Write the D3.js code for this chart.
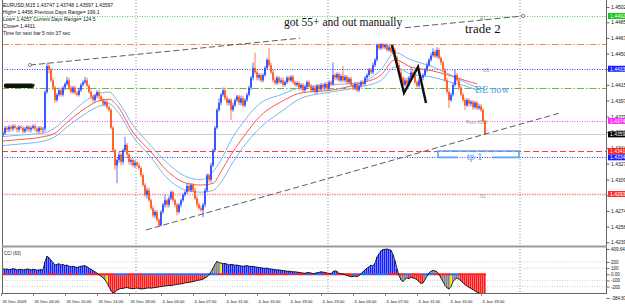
<!DOCTYPE html>
<html>
<head>
<meta charset="utf-8">
<script src="https://cdn.jsdelivr.net/npm/d3@7"></script>
<style>
body { margin: 0; background: #fff; }
svg { display: block; }
text { font-family: "Liberation Sans", Arial, sans-serif; }
.serif { font-family: "Liberation Serif", "Times New Roman", serif; }
</style>
</head>
<body>
<svg id="chart" width="625" height="305"></svg>
<script>
// EURUSD M15 bars, 31 Dec 2009 02:00 .. 5 Jan 2010 19:30 (bar index 0..242)
var opens = [1.4356,1.4359,1.4361,1.4367,1.4365,1.4368,1.4366,1.4369,1.4367,1.4365,
 1.4368,1.4367,1.4363,1.4366,1.4368,1.4365,1.4367,1.4369,1.4366,1.4363,
 1.4367,1.4365,1.4366,1.4407,1.4436,1.4432,1.4420,1.4412,1.4398,1.4404,
 1.4409,1.4404,1.4412,1.4416,1.4420,1.4412,1.4407,1.4412,1.4406,1.4404,
 1.4409,1.4415,1.4418,1.4420,1.4414,1.4407,1.4402,1.4398,1.4403,1.4407,
 1.4402,1.4398,1.4394,1.4396,1.4390,1.4387,1.4367,1.4342,1.4325,1.4331,
 1.4337,1.4329,1.4342,1.4348,1.4337,1.4329,1.4331,1.4325,1.4328,1.4325,
 1.4322,1.4314,1.4303,1.4292,1.4297,1.4286,1.4277,1.4269,1.4273,1.4264,
 1.4258,1.4273,1.4281,1.4286,1.4281,1.4288,1.4295,1.4286,1.4281,1.4273,
 1.4281,1.4286,1.4292,1.4295,1.4302,1.4297,1.4303,1.4297,1.4288,1.4281,
 1.4277,1.4275,1.4281,1.4297,1.4314,1.4309,1.4325,1.4342,1.4367,1.4387,
 1.4395,1.4404,1.4409,1.4400,1.4395,1.4398,1.4387,1.4392,1.4398,1.4402,
 1.4395,1.4400,1.4392,1.4398,1.4404,1.4412,1.4423,1.4434,1.4429,1.4423,
 1.4426,1.4420,1.4426,1.4434,1.4443,1.4437,1.4429,1.4420,1.4417,1.4423,
 1.4418,1.4420,1.4415,1.4418,1.4423,1.4420,1.4424,1.4418,1.4415,1.4417,
 1.4412,1.4415,1.4409,1.4413,1.4418,1.4414,1.4409,1.4412,1.4407,1.4414,
 1.4410,1.4415,1.4412,1.4416,1.4411,1.4418,1.4416,1.4426,1.4423,1.4427,
 1.4420,1.4425,1.4420,1.4424,1.4418,1.4422,1.4415,1.4412,1.4416,1.4409,
 1.4414,1.4418,1.4416,1.4423,1.4426,1.4432,1.4429,1.4437,1.4443,1.4460,
 1.4456,1.4461,1.4457,1.4460,1.4454,1.4457,1.4452,1.4454,1.4446,1.4437,
 1.4429,1.4423,1.4415,1.4420,1.4416,1.4423,1.4429,1.4425,1.4418,1.4414,
 1.4420,1.4423,1.4426,1.4432,1.4437,1.4443,1.4448,1.4452,1.4447,1.4454,
 1.4445,1.4440,1.4432,1.4420,1.4407,1.4398,1.4404,1.4415,1.4426,1.4420,
 1.4412,1.4404,1.4398,1.4392,1.4398,1.4394,1.4396,1.4390,1.4395,1.4389,
 1.4391,1.4387,1.43747];
var highs = [1.4360,1.4363,1.4369,1.4369,1.4370,1.4370,1.4371,1.4371,1.4369,1.4370,
 1.4370,1.4369,1.4368,1.4370,1.4370,1.4369,1.4371,1.4371,1.4368,1.4369,
 1.4369,1.4368,1.4409,1.4440,1.4438,1.4434,1.4423,1.4414,1.4406,1.4412,
 1.4412,1.4414,1.4418,1.4424,1.4423,1.4414,1.4414,1.4414,1.4408,1.4412,
 1.4417,1.4420,1.4424,1.4423,1.4416,1.4409,1.4404,1.4405,1.4409,1.4409,
 1.4404,1.4400,1.4398,1.4398,1.4392,1.4389,1.4369,1.4344,1.4333,1.4340,
 1.4339,1.4344,1.4357,1.4350,1.4339,1.4333,1.4333,1.4331,1.4330,1.4328,
 1.4324,1.4316,1.4305,1.4300,1.4300,1.4288,1.4280,1.4275,1.4275,1.4266,
 1.4275,1.4283,1.4292,1.4288,1.4291,1.4297,1.4297,1.4288,1.4283,1.4283,
 1.4288,1.4294,1.4297,1.4305,1.4304,1.4305,1.4305,1.4300,1.4291,1.4283,
 1.4280,1.4283,1.4300,1.4316,1.4316,1.4328,1.4344,1.4369,1.4389,1.4400,
 1.4406,1.4412,1.4412,1.4403,1.4400,1.4400,1.4395,1.4400,1.4404,1.4404,
 1.4403,1.4403,1.4400,1.4406,1.4414,1.4425,1.4440,1.4451,1.4432,1.4428,
 1.4428,1.4428,1.4436,1.4445,1.4456,1.4440,1.4432,1.4423,1.4425,1.4425,
 1.4423,1.4423,1.4420,1.4425,1.4425,1.4426,1.4426,1.4420,1.4419,1.4419,
 1.4417,1.4417,1.4415,1.4420,1.4420,1.4416,1.4414,1.4414,1.4416,1.4416,
 1.4417,1.4417,1.4418,1.4418,1.4420,1.4420,1.4440,1.4428,1.4429,1.4429,
 1.4427,1.4436,1.4426,1.4426,1.4424,1.4424,1.4417,1.4418,1.4418,1.4416,
 1.4420,1.4420,1.4425,1.4428,1.4434,1.4434,1.4440,1.4445,1.4461,1.4461,
 1.4461,1.4461,1.4461,1.4461,1.4460,1.4460,1.4456,1.4456,1.4448,1.4440,
 1.4432,1.4425,1.4423,1.4423,1.4425,1.4435,1.4432,1.4427,1.4420,1.4423,
 1.4425,1.4428,1.4434,1.4440,1.4445,1.4451,1.4456,1.4454,1.4457,1.4456,
 1.4447,1.4442,1.4434,1.4423,1.4409,1.4406,1.4417,1.4432,1.4428,1.4423,
 1.4414,1.4406,1.4400,1.4400,1.4400,1.4398,1.4398,1.4397,1.4397,1.4394,
 1.4394,1.4389,1.43748];
var lows = [1.4353,1.4357,1.4359,1.4362,1.4362,1.4363,1.4363,1.4365,1.4362,1.4362,
 1.4365,1.4361,1.4361,1.4363,1.4362,1.4362,1.4365,1.4363,1.4361,1.4361,
 1.4362,1.4361,1.4363,1.4405,1.4428,1.4418,1.4409,1.4395,1.4396,1.4402,
 1.4402,1.4402,1.4409,1.4414,1.4409,1.4405,1.4405,1.4404,1.4402,1.4402,
 1.4407,1.4413,1.4416,1.4412,1.4405,1.4399,1.4395,1.4396,1.4400,1.4399,
 1.4396,1.4391,1.4391,1.4388,1.4385,1.4365,1.4340,1.4320,1.4305,1.4328,
 1.4325,1.4326,1.4340,1.4334,1.4326,1.4325,1.4323,1.4322,1.4323,1.4320,
 1.4312,1.4301,1.4290,1.4288,1.4284,1.4275,1.4267,1.4266,1.4262,1.4257,
 1.4257,1.4271,1.4278,1.4278,1.4278,1.4286,1.4284,1.4278,1.4269,1.4271,
 1.4278,1.4284,1.4290,1.4293,1.4295,1.4295,1.4295,1.4286,1.4278,1.4275,
 1.4273,1.4267,1.4278,1.4295,1.4306,1.4306,1.4323,1.4340,1.4365,1.4385,
 1.4392,1.4402,1.4398,1.4392,1.4392,1.4376,1.4385,1.4390,1.4396,1.4392,
 1.4392,1.4390,1.4390,1.4396,1.4402,1.4409,1.4420,1.4427,1.4420,1.4420,
 1.4418,1.4418,1.4424,1.4432,1.4435,1.4427,1.4418,1.4415,1.4415,1.4416,
 1.4416,1.4413,1.4413,1.4416,1.4418,1.4418,1.4416,1.4413,1.4413,1.4409,
 1.4409,1.4407,1.4407,1.4410,1.4412,1.4407,1.4407,1.4405,1.4405,1.4408,
 1.4408,1.4409,1.4409,1.4408,1.4408,1.4414,1.4414,1.4420,1.4420,1.4418,
 1.4418,1.4418,1.4418,1.4416,1.4416,1.4413,1.4409,1.4409,1.4407,1.4407,
 1.4412,1.4414,1.4414,1.4420,1.4424,1.4427,1.4427,1.4435,1.4441,1.4454,
 1.4454,1.4455,1.4455,1.4452,1.4452,1.4450,1.4450,1.4444,1.4435,1.4427,
 1.4420,1.4412,1.4413,1.4414,1.4414,1.4420,1.4423,1.4416,1.4412,1.4412,
 1.4418,1.4420,1.4424,1.4429,1.4435,1.4441,1.4446,1.4445,1.4445,1.4443,
 1.4437,1.4429,1.4418,1.4405,1.4389,1.4396,1.4402,1.4413,1.4418,1.4409,
 1.4402,1.4396,1.4387,1.4390,1.4391,1.4391,1.4387,1.4388,1.4387,1.4387,
 1.4385,1.4373,1.43597];
var closes = [1.4359,1.4361,1.4367,1.4365,1.4368,1.4366,1.4369,1.4367,1.4365,1.4368,
 1.4367,1.4363,1.4366,1.4368,1.4365,1.4367,1.4369,1.4366,1.4363,1.4367,
 1.4365,1.4366,1.4407,1.4436,1.4432,1.4420,1.4412,1.4398,1.4404,1.4409,
 1.4404,1.4412,1.4416,1.4420,1.4412,1.4407,1.4412,1.4406,1.4404,1.4409,
 1.4415,1.4418,1.4420,1.4414,1.4407,1.4402,1.4398,1.4403,1.4407,1.4402,
 1.4398,1.4394,1.4396,1.4390,1.4387,1.4367,1.4342,1.4325,1.4331,1.4337,
 1.4329,1.4342,1.4348,1.4337,1.4329,1.4331,1.4325,1.4328,1.4325,1.4322,
 1.4314,1.4303,1.4292,1.4297,1.4286,1.4277,1.4269,1.4273,1.4264,1.4258,
 1.4273,1.4281,1.4286,1.4281,1.4288,1.4295,1.4286,1.4281,1.4273,1.4281,
 1.4286,1.4292,1.4295,1.4302,1.4297,1.4303,1.4297,1.4288,1.4281,1.4277,
 1.4275,1.4281,1.4297,1.4314,1.4309,1.4325,1.4342,1.4367,1.4387,1.4395,
 1.4404,1.4409,1.4400,1.4395,1.4398,1.4387,1.4392,1.4398,1.4402,1.4395,
 1.4400,1.4392,1.4398,1.4404,1.4412,1.4423,1.4434,1.4429,1.4423,1.4426,
 1.4420,1.4426,1.4434,1.4443,1.4437,1.4429,1.4420,1.4417,1.4423,1.4418,
 1.4420,1.4415,1.4418,1.4423,1.4420,1.4424,1.4418,1.4415,1.4417,1.4412,
 1.4415,1.4409,1.4413,1.4418,1.4414,1.4409,1.4412,1.4407,1.4414,1.4410,
 1.4415,1.4412,1.4416,1.4411,1.4418,1.4416,1.4426,1.4423,1.4427,1.4420,
 1.4425,1.4420,1.4424,1.4418,1.4422,1.4415,1.4412,1.4416,1.4409,1.4414,
 1.4418,1.4416,1.4423,1.4426,1.4432,1.4429,1.4437,1.4443,1.4460,1.4456,
 1.4461,1.4457,1.4460,1.4454,1.4457,1.4452,1.4454,1.4446,1.4437,1.4429,
 1.4423,1.4415,1.4420,1.4416,1.4423,1.4429,1.4425,1.4418,1.4414,1.4420,
 1.4423,1.4426,1.4432,1.4437,1.4443,1.4448,1.4452,1.4447,1.4454,1.4445,
 1.4440,1.4432,1.4420,1.4407,1.4398,1.4404,1.4415,1.4426,1.4420,1.4412,
 1.4404,1.4398,1.4392,1.4398,1.4394,1.4396,1.4390,1.4395,1.4389,1.4391,
 1.4387,1.43747,1.43597];

// CCI(63), one value per bar
var cci = [95,90,80,85,75,80,90,85,70,75,
 80,70,75,85,80,70,80,75,65,70,
 75,70,200,290,270,230,190,150,160,170,
 150,160,140,150,130,120,130,120,110,120,
 130,135,140,120,100,80,60,40,20,-10,
 -30,-60,-90,-140,-200,-270,-300,-290,-260,-240,
 -230,-230,-220,-215,-225,-230,-235,-230,-225,-230,
 -240,-235,-230,-225,-220,-225,-220,-215,-210,-205,
 -200,-195,-190,-185,-180,-185,-175,-170,-165,-160,
 -155,-150,-140,-135,-130,-125,-120,-110,-100,-95,
 -90,-80,-60,-40,-10,40,100,160,210,190,
 180,170,175,165,150,160,155,145,150,140,
 135,130,135,140,130,125,130,120,115,110,
 105,100,95,100,90,85,80,75,70,70,
 65,60,55,50,50,45,40,40,35,30,
 25,20,15,25,30,20,10,15,25,30,
 40,35,30,20,15,10,40,55,45,15,
 10,5,-5,-20,-30,-40,-35,-30,-40,-20,
 10,40,70,100,120,150,130,180,280,330,
 380,400,405,409.642,400,390,320,220,90,-20,
 -90,-120,-80,-60,-70,-50,-60,-70,-90,-120,
 -150,-140,-90,-30,20,50,60,55,40,0,
 -60,-120,-180,-220,-240,-200,-120,-80,-60,-80,
 -110,-140,-170,-190,-210,-230,-250,-270,-290,-300,
 -320,-350,-384.836];
var cciGrayRanges = [[48, 52], [103, 109], [199, 203], [212, 224], [226, 229]];
var cciYellowBars = [53, 110, 225];
var cciTicks = [409.642, 200, 100, 0, -100, -200, -384.836];
var cciTickLabels = ["409.642", "200", "100", "0.00", "-100", "-200", "-384.836"];
var cciLevels = [200, 100, -100, -200];

// moving average band, sampled
var maIdx = [0, 10, 21, 27, 33, 41, 50, 54, 58, 66, 75, 83, 93, 100, 106, 110, 115, 120, 130, 140, 150, 165, 180, 190, 197, 205, 215, 225, 232, 238];
var maUpper = [1.4357,1.4359,1.4361,1.4367,1.4379,1.4395,1.4406,1.4407,1.4398,1.4370,1.4347,1.4328,1.4312,1.4309,1.4318,1.4331,1.4353,1.4370,1.4395,1.4404,1.4412,1.4415,1.4418,1.4432,1.4451,1.4443,1.4436,1.4426,1.4418,1.4412];
var maMid = [1.4352,1.4354,1.4357,1.4361,1.4373,1.4387,1.4398,1.4399,1.4392,1.4362,1.4340,1.4319,1.4305,1.4303,1.4305,1.4318,1.4337,1.4353,1.4381,1.4396,1.4406,1.4409,1.4417,1.4426,1.4443,1.4435,1.4431,1.4425,1.4420,1.4416];
var maLower = [1.4347,1.4349,1.4352,1.4357,1.4368,1.4381,1.4392,1.4394,1.4386,1.4357,1.4334,1.4311,1.4297,1.4295,1.4297,1.4306,1.4325,1.4342,1.4368,1.4385,1.4400,1.4407,1.4413,1.4420,1.4435,1.4427,1.4424,1.4418,1.4414,1.4409];

// horizontal levels: R1, day high, M3, prev close, pivot, bid, red, blue, S1
var levelPrices = [1.4492, 1.4461, 1.4433, 1.4411, 1.43747, 1.43597, 1.4341, 1.4334, 1.4293];
var levelNames = ["R1", "", "M3", "", "Pivot", "", "", "", "S1"];

var priceTicks = [1.45020, 1.44850, 1.44675, 1.44500, 1.44325, 1.44150, 1.43975, 1.43795, 1.43620, 1.43445, 1.43270, 1.43090, 1.42915, 1.42740, 1.42565, 1.42390];
var timeTickIdx = [0, 16, 32, 48, 64, 80, 96, 112, 128, 144, 160, 176, 192, 208, 224, 240];
var timeTickLabels = ["31 Dec 2009", "31 Dec 06:00", "31 Dec 10:00", "31 Dec 14:00", "31 Dec 18:00", "4 Jan 03:00", "4 Jan 07:00", "4 Jan 11:00", "4 Jan 15:00", "4 Jan 19:00", "4 Jan 23:00", "5 Jan 03:00", "5 Jan 07:00", "5 Jan 11:00", "5 Jan 15:00", "5 Jan 19:00"];
var daySeparators = [68, 164, 260];

// drawn objects (bar index, price)
var trendUpperA = [[14.5, 1.44372], [149.5, 1.44672]];
var trendUpperB = [[202, 1.44789], [261, 1.4492]];
var trendLower = [[72.5, 1.42528], [279.5, 1.43836]];
var zigzag = [[195.5, 1.44596], [201.5, 1.44059], [208.5, 1.4435], [212.5, 1.43947]];
var arrowMark = [[2.5, 1.4414], [15.5, 1.4414]];
var tpBox = [[218.5, 1.4341], [259, 1.4334]];
var notes = ["got 55+ and out manually", "trade 2", "BE now", "tp 1"];
var noteAnchors = [[141.5, 1.44808], [232, 1.4473], [237, 1.44059], [233, 1.4331]];

var infoLines = ["EURUSD,M15  1.43747 1.43748 1.43597 1.43597",
  "High= 1.4456    Previous Days Range= 199.1",
  "Low= 1.4257    Current Days Range= 124.5",
  "Close= 1.4411",
  "Time for next bar 5 min 37 sec"];

var svg = d3.select("#chart");
var left = 2, right = 606, mainBottom = 246, cciTop = 248, cciBottom = 293;

var x = d3.scaleLinear().domain([0, 302]).range([1, 605]);
var y = d3.scaleLinear().domain([1.4293, 1.4492]).range([194, 16]);
var yc = d3.scaleLinear().domain([-384.836, 409.642]).range([298, 249]);

var defs = svg.append("defs");
defs.append("clipPath").attr("id", "clipMain").append("rect")
    .attr("x", left).attr("y", 0).attr("width", right - left).attr("height", mainBottom);
defs.append("clipPath").attr("id", "clipCci").append("rect")
    .attr("x", left).attr("y", cciTop).attr("width", right - left).attr("height", cciBottom - cciTop);

var gMain = svg.append("g").attr("clip-path", "url(#clipMain)");
var gCci = svg.append("g").attr("clip-path", "url(#clipCci)");

// day separators
daySeparators.forEach(function (d) {
    svg.append("line")
        .attr("x1", x(d) - 1).attr("x2", x(d) - 1)
        .attr("y1", 0).attr("y2", cciBottom)
        .attr("stroke", "#777").attr("stroke-width", 0.8)
        .attr("stroke-dasharray", "1,2");
});

// horizontal levels
var levelStyle = [
    {color: "#5ccc5c", dash: "1,1.5", w: 1},
    {color: "#ff7f50", dash: "7,2,1.5,2", w: 1},
    {color: "#3a3aff", dash: "1,1.5", w: 1},
    {color: "#6cb83a", dash: "7,2,1.5,2", w: 1},
    {color: "#ff44ff", dash: "1,1.5", w: 1},
    {color: "#cfcfcf", dash: null, w: 1},
    {color: "#ff3b3b", dash: "6,3", w: 1},
    {color: "#3a3aff", dash: "1,1.5", w: 1},
    {color: "#ff9090", dash: "1.5,1", w: 1.6}
];
levelPrices.forEach(function (p, i) {
    gMain.append("line")
        .attr("x1", left).attr("x2", right)
        .attr("y1", Math.round(y(p)) + 0.5).attr("y2", Math.round(y(p)) + 0.5)
        .attr("stroke", levelStyle[i].color)
        .attr("stroke-width", levelStyle[i].w)
        .attr("stroke-dasharray", levelStyle[i].dash);
});
var nameIdx = [239.5, 0, 241, 0, 232.5, 0, 0, 0, 239.5];
levelNames.forEach(function (n, i) {
    if (!n) return;
    gMain.append("text")
        .attr("x", x(nameIdx[i])).attr("y", y(levelPrices[i]) + 3.5)
        .attr("font-size", 4.5).attr("fill", "#9a9a9a")
        .text(n === "Pivot" ? "Pivot    4375" : n);
});

// moving averages
function maLine(vals) {
    return d3.line()
        .x(function (d, i) { return x(maIdx[i]); })
        .y(function (d) { return y(d); })
        .curve(d3.curveMonotoneX)(vals);
}
gMain.append("path").attr("d", maLine(maUpper)).attr("fill", "none").attr("stroke", "#7ab8f0").attr("stroke-width", 1);
gMain.append("path").attr("d", maLine(maLower)).attr("fill", "none").attr("stroke", "#7ab8f0").attr("stroke-width", 1);
gMain.append("path").attr("d", maLine(maMid)).attr("fill", "none").attr("stroke", "#ff5a4a").attr("stroke-width", 1);

// candles
var bullColor = "#2f4cff", bearColor = "#ff5a1f";
var bars = d3.range(closes.length);
function barColor(i) { return closes[i] >= opens[i] ? bullColor : bearColor; }
gMain.selectAll("line.wick").data(bars).enter().append("line")
    .attr("class", "wick")
    .attr("x1", function (d) { return x(d); })
    .attr("x2", function (d) { return x(d); })
    .attr("y1", function (d) { return y(highs[d]); })
    .attr("y2", function (d) { return y(lows[d]); })
    .attr("stroke", barColor)
    .attr("stroke-width", 0.8);
gMain.selectAll("rect.body").data(bars).enter().append("rect")
    .attr("class", "body")
    .attr("x", function (d) { return x(d) - 0.9; })
    .attr("width", 1.8)
    .attr("y", function (d) { return y(Math.max(opens[d], closes[d])); })
    .attr("height", function (d) { return Math.max(0.8, Math.abs(y(opens[d]) - y(closes[d]))); })
    .attr("fill", barColor);

// trend lines
var ptLine = d3.line().x(function (d) { return x(d[0]); }).y(function (d) { return y(d[1]); });
[trendUpperA, trendUpperB, trendLower].forEach(function (t) {
    gMain.append("path").attr("d", ptLine(t))
        .attr("fill", "none").attr("stroke", "#4a4a4a").attr("stroke-width", 0.9)
        .attr("stroke-dasharray", "6,3");
});
[trendUpperA[0], trendUpperB[1]].forEach(function (p) {
    gMain.append("circle").attr("cx", x(p[0])).attr("cy", y(p[1])).attr("r", 1.6)
        .attr("fill", "#fff").attr("stroke", "#555").attr("stroke-width", 0.7);
});

// zigzag
gMain.append("path").attr("d", ptLine(zigzag))
    .attr("fill", "none").attr("stroke", "#111").attr("stroke-width", 2.4)
    .attr("stroke-linejoin", "miter");

// arrow mark at left
gMain.append("path").attr("d", ptLine(arrowMark))
    .attr("stroke", "#111").attr("stroke-width", 4.5).attr("stroke-linecap", "round");
gMain.append("line")
    .attr("x1", x(arrowMark[1][0])).attr("x2", x(arrowMark[1][0]) + 3)
    .attr("y1", y(arrowMark[1][1]) - 1).attr("y2", y(arrowMark[1][1]) - 1)
    .attr("stroke", "#444").attr("stroke-width", 1);

// tp box
var bx0 = x(tpBox[0][0]), bx1 = x(tpBox[1][0]), by0 = y(tpBox[0][1]), by1 = y(tpBox[1][1]);
gMain.append("path")
    .attr("d", "M" + (bx0 + 20) + "," + by1 + "H" + bx0 + "V" + by0 + "H" + bx1 + "V" + by1 + "H" + (bx0 + 55))
    .attr("fill", "none").attr("stroke", "#5aa4f5").attr("stroke-width", 1.6);

// notes
var noteSize = [11.5, 13, 10.5, 10];
var noteColor = ["#111", "#111", "#4a9ef5", "#4a9ef5"];
notes.forEach(function (t, i) {
    gMain.append("text").attr("class", "serif")
        .attr("x", x(noteAnchors[i][0])).attr("y", y(noteAnchors[i][1]))
        .attr("font-size", noteSize[i]).attr("fill", noteColor[i])
        .text(t);
});

// info text
infoLines.forEach(function (t, i) {
    svg.append("text").attr("x", 3).attr("y", 7 + i * 7.1)
        .attr("font-size", 5).attr("fill", "#111").text(t);
});

// CCI histogram
var zeroY = yc(0);
function cciColor(i) {
    if (cciYellowBars.indexOf(i) >= 0) return ["#ffff00", "#e6e600"];
    for (var k = 0; k < cciGrayRanges.length; k++) {
        if (i >= cciGrayRanges[k][0] && i <= cciGrayRanges[k][1]) return ["#a8a8a8", "#888"];
    }
    return cci[i] >= 0 ? ["#6f86ff", "#1a1aff"] : ["#ff7070", "#ff1a1a"];
}
cciLevels.forEach(function (v) {
    gCci.append("line").attr("x1", left).attr("x2", right)
        .attr("y1", yc(v)).attr("y2", yc(v))
        .attr("stroke", "#bbb").attr("stroke-width", 0.7).attr("stroke-dasharray", "1,1.5");
});
gCci.selectAll("rect.hist").data(bars).enter().append("rect")
    .attr("class", "hist")
    .attr("x", function (d) { return x(d) - 1; })
    .attr("width", 2)
    .attr("y", function (d) { return Math.min(yc(cci[d]), zeroY); })
    .attr("height", function (d) { return Math.abs(yc(cci[d]) - zeroY); })
    .attr("fill", function (d) { return cciColor(d)[0]; });
gCci.selectAll("line.hist").data(bars).enter().append("line")
    .attr("class", "hist")
    .attr("x1", function (d) { return x(d) - 0.5; })
    .attr("x2", function (d) { return x(d) - 0.5; })
    .attr("y1", zeroY)
    .attr("y2", function (d) { return yc(cci[d]); })
    .attr("stroke", function (d) { return cciColor(d)[1]; })
    .attr("stroke-width", 1);
// zero strip
gCci.selectAll("rect.zero").data(bars).enter().append("rect")
    .attr("class", "zero")
    .attr("x", function (d) { return x(d) - 1; })
    .attr("width", 2)
    .attr("y", zeroY - 1).attr("height", 2)
    .attr("fill", function (d) { return d > 0 && cci[d] < cci[d - 1] ? "#ff2020" : "#2a6cff"; });
gCci.append("path")
    .attr("d", d3.line().x(function (d) { return x(d); }).y(function (d) { return yc(cci[d]); })(bars))
    .attr("fill", "none").attr("stroke", "#111").attr("stroke-width", 0.9);

svg.append("text").attr("x", 4).attr("y", 254.5).attr("font-size", 4.5).attr("fill", "#222").text("CCI (63)");

// frame
svg.append("line").attr("x1", left + 0.5).attr("x2", left + 0.5).attr("y1", 0).attr("y2", cciBottom).attr("stroke", "#666").attr("stroke-width", 1);
svg.append("line").attr("x1", right + 0.5).attr("x2", right + 0.5).attr("y1", 0).attr("y2", cciBottom).attr("stroke", "#666").attr("stroke-width", 1);
svg.append("rect").attr("x", left).attr("y", mainBottom - 0.5).attr("width", right - left + 1).attr("height", 2).attr("fill", "#9a9a9a");
svg.append("line").attr("x1", left).attr("x2", right + 1).attr("y1", cciBottom + 0.5).attr("y2", cciBottom + 0.5).attr("stroke", "#666").attr("stroke-width", 1);

// price axis
var yAxis = d3.axisRight(y).tickValues(priceTicks).tickFormat(d3.format(".5f")).tickSize(3).tickPadding(1.5);
var gy = svg.append("g").attr("transform", "translate(" + (right + 0.5) + ",0)").call(yAxis);
gy.select(".domain").remove();
gy.selectAll("text").attr("font-size", 5).attr("fill", "#111").attr("font-family", "Liberation Sans, Arial, sans-serif");
gy.selectAll("line").attr("stroke", "#666");

// highlighted price labels
var tagIdx = [0, 2, 4, 5, 6, 7, 8];
var tagFill = ["#19c419", "#1b1bff", "#ff2cff", "#000", "#ff1c1c", "#1b1bff", "#ff3030"];
tagIdx.forEach(function (li, k) {
    var py = y(levelPrices[li]);
    svg.append("rect").attr("x", right + 2).attr("y", py - 3).attr("width", 25).attr("height", 6).attr("fill", tagFill[k]);
    svg.append("text").attr("x", right + 4).attr("y", py + 1.8)
        .attr("font-size", 5).attr("fill", "#fff").text(d3.format(".5f")(levelPrices[li]));
});

// cci axis
var cAxis = d3.axisRight(yc).tickValues(cciTicks).tickFormat(function (d, i) { return cciTickLabels[i]; }).tickSize(3).tickPadding(1.5);
var gc = svg.append("g").attr("transform", "translate(" + (right + 0.5) + ",0)").call(cAxis);
gc.select(".domain").remove();
gc.selectAll("text").attr("font-size", 4.5).attr("fill", "#111").attr("font-family", "Liberation Sans, Arial, sans-serif");
gc.selectAll("line").attr("stroke", "#666");

// time axis
var gt = svg.append("g");
timeTickIdx.forEach(function (d, i) {
    var tx = Math.round(x(d)) + 0.5;
    gt.append("line").attr("x1", tx).attr("x2", tx).attr("y1", cciBottom).attr("y2", cciBottom + 3)
        .attr("stroke", "#666").attr("stroke-width", 0.8);
    gt.append("text").attr("x", tx + 1).attr("y", 302.5)
        .attr("font-size", 4.2).attr("fill", "#111").text(timeTickLabels[i]);
});
</script>
</body>
</html>
